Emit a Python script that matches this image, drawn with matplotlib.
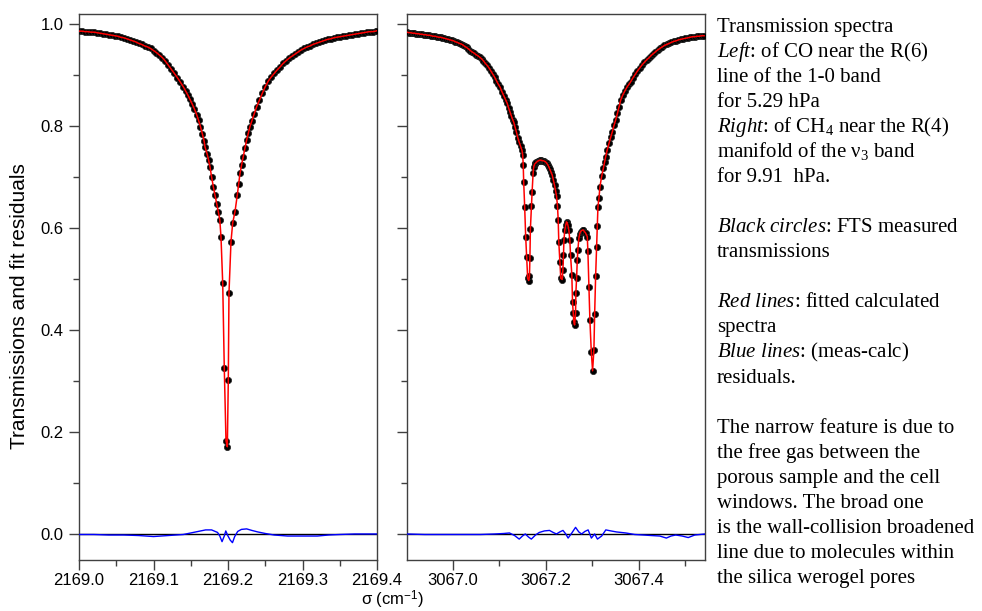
import numpy as np
import matplotlib.pyplot as plt
from matplotlib.ticker import MultipleLocator

# Left panel: CO, wavenumber offset from 2169 cm-1, measured transmission
co_dsig = [0.000, 0.004, 0.008, 0.012, 0.016, 0.020, 0.024, 0.028, 0.032, 0.036,
           0.040, 0.044, 0.048, 0.052, 0.056, 0.060, 0.064, 0.068, 0.072, 0.076,
           0.080, 0.084, 0.088, 0.092, 0.096, 0.100, 0.104, 0.108, 0.112, 0.116,
           0.120, 0.124, 0.128, 0.132, 0.136, 0.140, 0.143, 0.146, 0.149, 0.152,
           0.155, 0.158, 0.1605, 0.163, 0.1655, 0.168, 0.1691, 0.172, 0.174, 0.1758,
           0.178, 0.1803, 0.1826, 0.1848, 0.187, 0.189, 0.1906, 0.1929, 0.1950, 0.1973,
           0.1991, 0.2004, 0.2013, 0.2040, 0.2063, 0.2094, 0.2125, 0.2143, 0.2161, 0.2183,
           0.2205, 0.2228, 0.2251, 0.2273, 0.2295, 0.232, 0.235, 0.2385, 0.242, 0.246,
           0.250, 0.254, 0.258, 0.262, 0.266, 0.270, 0.2742, 0.278, 0.282, 0.286,
           0.290, 0.294, 0.298, 0.302, 0.306, 0.310, 0.314, 0.318, 0.322, 0.326,
           0.330, 0.334, 0.338, 0.342, 0.346, 0.350, 0.354, 0.358, 0.362, 0.366,
           0.370, 0.374, 0.378, 0.382, 0.386, 0.390, 0.394, 0.398, 0.400]
co_trans = [0.986, 0.986, 0.985, 0.985, 0.984, 0.984, 0.983, 0.982, 0.981, 0.980,
            0.979, 0.978, 0.977, 0.976, 0.974, 0.973, 0.971, 0.969, 0.967, 0.965,
            0.962, 0.960, 0.957, 0.955, 0.952, 0.948, 0.944, 0.939, 0.934, 0.927,
            0.919, 0.911, 0.903, 0.895, 0.886, 0.877, 0.869, 0.861, 0.852, 0.843,
            0.833, 0.822, 0.811, 0.799, 0.785, 0.770, 0.759, 0.745, 0.733, 0.720,
            0.700, 0.681, 0.664, 0.648, 0.632, 0.616, 0.582, 0.492, 0.326, 0.183,
            0.171, 0.301, 0.472, 0.573, 0.610, 0.632, 0.665, 0.686, 0.707, 0.724,
            0.740, 0.757, 0.773, 0.786, 0.799, 0.810, 0.823, 0.838, 0.850, 0.864,
            0.877, 0.888, 0.896, 0.903, 0.910, 0.916, 0.923, 0.928, 0.933, 0.937,
            0.941, 0.945, 0.949, 0.952, 0.955, 0.957, 0.960, 0.962, 0.964, 0.966,
            0.968, 0.970, 0.971, 0.973, 0.974, 0.975, 0.976, 0.977, 0.978, 0.979,
            0.980, 0.981, 0.982, 0.983, 0.984, 0.985, 0.985, 0.986, 0.987]
co_res_dsig = [0.000, 0.020, 0.040, 0.060, 0.080, 0.090, 0.100, 0.110, 0.120, 0.130,
               0.140, 0.150, 0.160, 0.170, 0.178, 0.186, 0.189, 0.192, 0.195, 0.197,
               0.200, 0.203, 0.206, 0.209, 0.213, 0.218, 0.225, 0.232, 0.240, 0.250,
               0.262, 0.280, 0.300, 0.320, 0.335, 0.350, 0.370, 0.400]
co_res = [-0.001, -0.001, -0.002, -0.002, -0.003, -0.004, -0.005, -0.004, -0.003, -0.002,
          -0.001, 0.002, 0.005, 0.008, 0.008, 0.003, -0.004, -0.015, -0.004, 0.006,
          -0.004, -0.012, -0.017, -0.005, 0.005, 0.009, 0.010, 0.007, 0.004, 0.001,
          -0.002, -0.004, -0.004, -0.004, -0.002, -0.001, 0.000, 0.000]

# Right panel: CH4, wavenumber offset from 3067 cm-1, measured transmission
ch4_dsig = [-0.098, -0.094, -0.090, -0.086, -0.082, -0.078, -0.074, -0.070, -0.066, -0.062,
            -0.058, -0.054, -0.050, -0.046, -0.042, -0.038, -0.034, -0.030, -0.026, -0.022,
            -0.018, -0.014, -0.010, -0.006, -0.002, 0.002, 0.006, 0.010, 0.014, 0.018,
            0.022, 0.026, 0.030, 0.034, 0.038, 0.042, 0.046, 0.050, 0.054, 0.058,
            0.062, 0.066, 0.070, 0.074, 0.078, 0.082, 0.086, 0.090, 0.094, 0.098,
            0.102, 0.106, 0.110, 0.114, 0.117, 0.120, 0.123, 0.126, 0.129, 0.131,
            0.134, 0.137, 0.140, 0.143, 0.146, 0.149, 0.1505, 0.1516, 0.1526, 0.1547,
            0.1569, 0.1590, 0.1612, 0.1634, 0.1650, 0.1660, 0.1670, 0.1692, 0.1707, 0.1728,
            0.1741, 0.1760, 0.1778, 0.1800, 0.1825, 0.1849, 0.1870, 0.1895, 0.1922, 0.1945,
            0.1970, 0.1994, 0.2020, 0.2042, 0.2065, 0.2088, 0.2110, 0.2138, 0.2163, 0.2188,
            0.2210, 0.2231, 0.2252, 0.2267, 0.2280, 0.2302, 0.2323, 0.2353, 0.2368, 0.2381,
            0.2390, 0.2409, 0.2430, 0.2446, 0.2460, 0.2474, 0.2496, 0.2517, 0.2532, 0.2560,
            0.2575, 0.2591, 0.2603, 0.2619, 0.2640, 0.2647, 0.2662, 0.2677, 0.2690, 0.2711,
            0.2730, 0.2748, 0.2770, 0.2790, 0.2806, 0.2830, 0.2856, 0.2892, 0.2905, 0.2927,
            0.2948, 0.2978, 0.3006, 0.3034, 0.3050, 0.3071, 0.3093, 0.3108, 0.3121, 0.3142,
            0.3164, 0.3200, 0.3237, 0.3262, 0.3287, 0.3320, 0.3358, 0.3395, 0.3431, 0.3465,
            0.3502, 0.3540, 0.3575, 0.3610, 0.3650, 0.3700, 0.3750, 0.3790, 0.3825, 0.3870,
            0.3920, 0.3970, 0.4020, 0.4070, 0.4120, 0.4170, 0.4220, 0.4260, 0.4300, 0.4350,
            0.4400, 0.4450, 0.4500, 0.4550, 0.4600, 0.4650, 0.4700, 0.4750, 0.4800, 0.4850,
            0.4900, 0.4950, 0.5000, 0.5050, 0.5100, 0.5150, 0.5200, 0.5250, 0.5300, 0.5350,
            0.5400]
ch4_trans = [0.984, 0.983, 0.983, 0.982, 0.982, 0.981, 0.981, 0.980, 0.980, 0.979,
             0.979, 0.978, 0.978, 0.977, 0.976, 0.976, 0.975, 0.974, 0.974, 0.973,
             0.972, 0.971, 0.970, 0.969, 0.968, 0.967, 0.965, 0.964, 0.962, 0.961,
             0.959, 0.956, 0.954, 0.951, 0.948, 0.945, 0.943, 0.940, 0.938, 0.935,
             0.932, 0.928, 0.923, 0.919, 0.914, 0.908, 0.902, 0.896, 0.889, 0.882,
             0.876, 0.867, 0.859, 0.851, 0.845, 0.836, 0.828, 0.820, 0.812, 0.808,
             0.798, 0.788, 0.777, 0.768, 0.760, 0.752, 0.743, 0.724, 0.691, 0.642,
             0.583, 0.544, 0.501, 0.497, 0.505, 0.542, 0.598, 0.643, 0.671, 0.707,
             0.720, 0.725, 0.727, 0.729, 0.731, 0.732, 0.733, 0.733, 0.732, 0.732,
             0.731, 0.730, 0.727, 0.724, 0.720, 0.715, 0.710, 0.704, 0.694, 0.684,
             0.673, 0.663, 0.643, 0.616, 0.573, 0.534, 0.501, 0.499, 0.518, 0.547,
             0.576, 0.596, 0.606, 0.612, 0.610, 0.606, 0.596, 0.576, 0.547, 0.508,
             0.454, 0.433, 0.416, 0.410, 0.433, 0.473, 0.501, 0.537, 0.557, 0.580,
             0.589, 0.593, 0.595, 0.596, 0.596, 0.593, 0.590, 0.583, 0.554, 0.485,
             0.420, 0.357, 0.320, 0.361, 0.431, 0.505, 0.563, 0.604, 0.642, 0.658,
             0.681, 0.701, 0.717, 0.729, 0.740, 0.753, 0.766, 0.778, 0.789, 0.801,
             0.812, 0.825, 0.838, 0.851, 0.860, 0.869, 0.877, 0.882, 0.887, 0.894,
             0.901, 0.908, 0.914, 0.920, 0.925, 0.930, 0.934, 0.938, 0.941, 0.945,
             0.949, 0.952, 0.955, 0.958, 0.960, 0.962, 0.964, 0.966, 0.967, 0.969,
             0.970, 0.971, 0.972, 0.973, 0.974, 0.975, 0.975, 0.976, 0.976, 0.977,
             0.977]
ch4_res_dsig = [-0.098, -0.06, -0.02, 0.02, 0.06, 0.09, 0.11, 0.122, 0.133, 0.143,
                0.150, 0.156, 0.163, 0.169, 0.178, 0.186, 0.197, 0.208, 0.216, 0.223,
                0.230, 0.237, 0.243, 0.248, 0.256, 0.264, 0.271, 0.277, 0.284, 0.291,
                0.298, 0.305, 0.311, 0.320, 0.329, 0.340, 0.352, 0.372, 0.391, 0.410,
                0.426, 0.445, 0.459, 0.469, 0.479, 0.493, 0.506, 0.520, 0.542]
ch4_res = [0.000, -0.001, -0.001, -0.001, -0.001, 0.000, 0.001, 0.002, -0.003, -0.010,
           -0.004, 0.000, -0.006, -0.010, -0.002, 0.003, 0.006, 0.007, 0.003, 0.000,
           0.004, 0.007, 0.000, -0.008, 0.002, 0.013, 0.004, 0.000, 0.005, 0.008,
           -0.008, 0.000, -0.010, -0.004, 0.008, 0.006, 0.004, 0.002, -0.001, -0.002,
           -0.003, -0.004, -0.008, -0.004, -0.002, -0.004, -0.007, -0.002, 0.000]

note_lines = [
    'Transmission spectra',
    r'$\mathit{Left}$: of CO near the R(6)',
    'line of the 1-0 band',
    'for 5.29 hPa',
    r'$\mathit{Right}$: of CH$_{\mathregular{4}}$ near the R(4)',
    r'manifold of the ν$_{\mathregular{3}}$ band',
    'for 9.91  hPa.',
    '',
    r'$\mathit{Black\ circles}$: FTS measured',
    'transmissions',
    '',
    r'$\mathit{Red\ lines}$: fitted calculated',
    'spectra',
    r'$\mathit{Blue\ lines}$: (meas-calc)',
    'residuals.',
    '',
    'The narrow feature is due to',
    'the free gas between the',
    'porous sample and the cell',
    'windows. The broad one',
    'is the wall-collision broadened',
    'line due to molecules within',
    'the silica werogel pores',
]

plt.rcParams['font.family'] = 'Liberation Sans'
plt.rcParams['mathtext.fontset'] = 'custom'
plt.rcParams['mathtext.rm'] = 'Liberation Serif'
plt.rcParams['mathtext.it'] = 'Liberation Serif:italic'

W, H = 982, 611
fig = plt.figure(figsize=(W / 100, H / 100), dpi=100)
ax1 = fig.add_axes([79 / W, 1 - 560 / H, 298 / W, 546 / H])
ax2 = fig.add_axes([407 / W, 1 - 560 / H, 298 / W, 546 / H])

panels = [
    (ax1, 2169.0 + np.array(co_dsig), co_trans, 2169.0 + np.array(co_res_dsig), co_res),
    (ax2, 3067.0 + np.array(ch4_dsig), ch4_trans, 3067.0 + np.array(ch4_res_dsig), ch4_res),
]
for ax, sig, tr, rsig, res in panels:
    ax.axhline(0, color='black', lw=1.0, zorder=2)
    ax.plot(rsig, res, '-', color='#0000ff', lw=1.0, zorder=3)
    ax.plot(sig, tr, 'o', color='black', ms=4.5, mec='#222222', mew=0.5, zorder=4)
    ax.plot(sig, tr, '-', color='#ff0000', lw=1.1, zorder=5)
    ax.set_ylim(-0.051, 1.0196)
    ax.yaxis.set_major_locator(MultipleLocator(0.2))
    ax.yaxis.set_minor_locator(MultipleLocator(0.1))
    ax.tick_params(which='both', direction='out', width=1, color='#404040',
                   labelsize=12)
    ax.tick_params(axis='x', pad=2.5)
    ax.tick_params(axis='y', pad=4)
    ax.tick_params(which='major', length=7)
    ax.tick_params(which='minor', length=4)
    for s in ax.spines.values():
        s.set_color('#404040')
        s.set_linewidth(1)

ax1.set_xlim(2169.0, 2169.4)
ax1.xaxis.set_major_locator(MultipleLocator(0.1))
ax1.xaxis.set_minor_locator(MultipleLocator(0.05))
ax1.xaxis.set_major_formatter('{x:.1f}')
ax1.yaxis.set_major_formatter('{x:.1f}')

ax2.set_xlim(3066.902, 3067.542)
ax2.xaxis.set_major_locator(MultipleLocator(0.2))
ax2.xaxis.set_minor_locator(MultipleLocator(0.1))
ax2.xaxis.set_major_formatter('{x:.1f}')
ax2.tick_params(axis='y', labelleft=False)

fig.text(20 / W, 1 - 306 / H, 'Transmissions and fit residuals', rotation=90,
         ha='center', va='center', fontsize=15)
fig.text(392 / W, 1 - 600 / H, r'σ (cm$^{\mathregular{-1}}$)', ha='center',
         va='center', fontsize=12)

for k, line in enumerate(note_lines):
    if line:
        yb = 26.7 + 25.06 * k + 5
        fig.text(717 / W, 1 - yb / H, line, ha='left', va='baseline',
                 fontsize=15, family='Liberation Serif')

fig.savefig('out.png', dpi=100)
